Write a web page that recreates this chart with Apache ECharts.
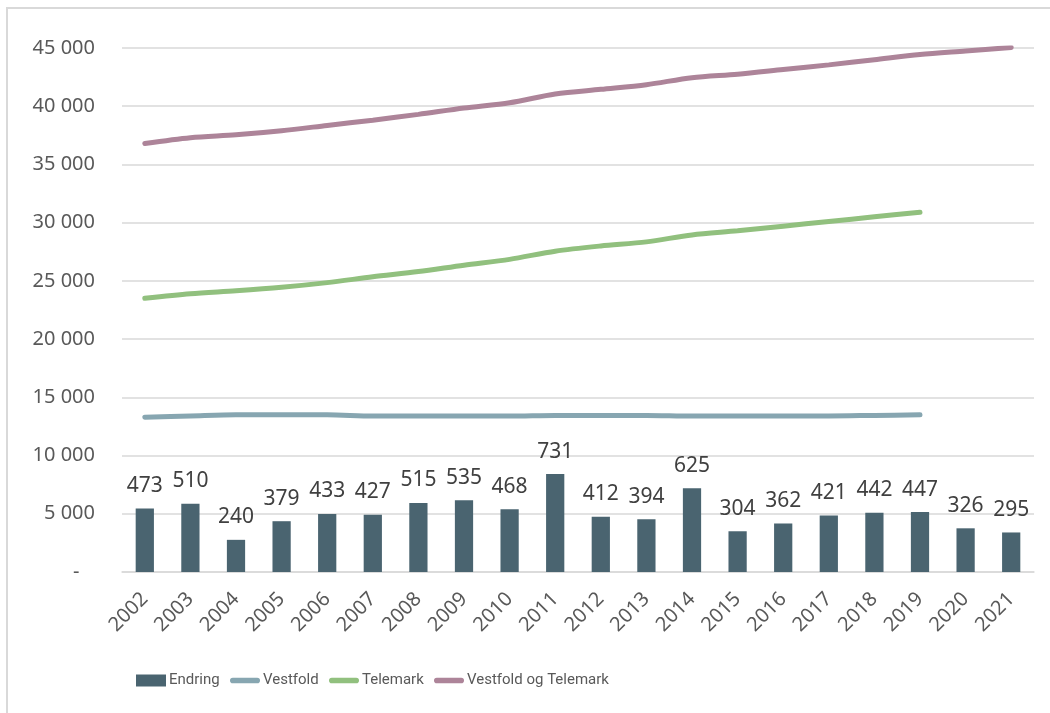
<!DOCTYPE html>
<html>
<head>
<meta charset="utf-8">
<script src="https://cdn.jsdelivr.net/npm/echarts@6/dist/echarts.min.js"></script>
<style>
  html, body { margin: 0; padding: 0; background: #fff; }
  #main { width: 1050px; height: 713px; }
</style>
</head>
<body>
<div id="main"></div>
<script>
var years = ['2002','2003','2004','2005','2006','2007','2008','2009','2010','2011',
             '2012','2013','2014','2015','2016','2017','2018','2019','2020','2021'];
var endring = [473, 510, 240, 379, 433, 427, 515, 535, 468, 731,
               412, 394, 625, 304, 362, 421, 442, 447, 326, 295];
var vestfold = [13300, 13400, 13500, 13500, 13500, 13400, 13400, 13400, 13400, 13450,
                13450, 13450, 13400, 13400, 13400, 13400, 13450, 13500];
var telemark = [23500, 23900, 24150, 24450, 24850, 25350, 25800, 26350, 26850, 27550,
                28000, 28350, 28950, 29300, 29700, 30100, 30500, 30900];
var vogt = [36800, 37300, 37550, 37900, 38350, 38800, 39300, 39850, 40300, 41050,
            41450, 41850, 42450, 42750, 43150, 43550, 44000, 44450, 44750, 45050];
var yTicks = [0, 5000, 10000, 15000, 20000, 25000, 30000, 35000, 40000, 45000];
var seriesNames = ['Endring', 'Vestfold', 'Telemark', 'Vestfold og Telemark'];

var colors = {
  bar: '#4a6470',
  vestfold: '#87a6b1',
  telemark: '#91c07e',
  vogt: '#ad8499'
};
var lineIcon = 'path://M3,0 L29,0 A3,3 0 0 1 29,6 L3,6 A3,3 0 0 1 3,0 Z';

function fmt(v) {
  if (v === 0) return '-   ';
  var s = String(v);
  return s.slice(0, s.length - 3) + ' ' + s.slice(-3);
}

// one legend per item so the icons sit where the original puts them
var legendLefts = [131, 225, 324, 429];
var legends = seriesNames.map(function (name, i) {
  return {
    left: legendLefts[i],
    top: 668,
    itemWidth: 30,
    itemHeight: 12,
    itemGap: 0,
    textStyle: { fontFamily: 'Roboto', fontSize: 15, color: '#595959', padding: [0, 0, 0, -2] },
    data: [{ name: name, icon: i === 0 ? 'rect' : lineIcon }]
  };
});

var chart = echarts.init(document.getElementById('main'));
chart.setOption({
  animation: false,
  textStyle: { fontFamily: 'Noto Sans' },
  graphic: [{
    type: 'rect',
    shape: { x: 7, y: 8, width: 1200, height: 900 },
    style: { fill: 'none', stroke: '#d9d9d9', lineWidth: 2 },
    silent: true
  }],
  grid: { left: 122, right: 16, top: 48, bottom: 141 },
  legend: legends,
  xAxis: {
    type: 'category',
    data: years,
    axisLine: { lineStyle: { color: '#d9d9d9', width: 1.5 } },
    axisTick: { show: false },
    axisLabel: { rotate: 45, fontSize: 20, color: '#595959', margin: 24 }
  },
  yAxis: [{
    type: 'value',
    min: 0,
    max: 45000,
    interval: 5000,
    axisLine: { show: false },
    axisTick: { show: false },
    splitLine: { lineStyle: { color: '#d9d9d9', width: 1.5 } },
    axisLabel: {
      fontSize: 20,
      color: '#595959',
      margin: 27,
      formatter: function (v) { return yTicks.indexOf(v) >= 0 ? fmt(v) : ''; }
    }
  }, {
    type: 'value',
    min: 0,
    max: 3910,
    show: false
  }],
  series: [{
    name: 'Endring',
    type: 'bar',
    yAxisIndex: 1,
    data: endring,
    barWidth: '40%',
    itemStyle: { color: colors.bar },
    label: {
      show: true,
      position: 'top',
      distance: 12,
      fontSize: 21,
      color: '#404040'
    },
    z: 1
  }, {
    name: 'Vestfold',
    type: 'line',
    data: vestfold,
    smooth: 0.3,
    symbol: 'none',
    lineStyle: { color: colors.vestfold, width: 5, cap: 'round' },
    itemStyle: { color: colors.vestfold },
    z: 3
  }, {
    name: 'Telemark',
    type: 'line',
    data: telemark,
    smooth: 0.3,
    symbol: 'none',
    lineStyle: { color: colors.telemark, width: 5, cap: 'round' },
    itemStyle: { color: colors.telemark },
    z: 3
  }, {
    name: 'Vestfold og Telemark',
    type: 'line',
    data: vogt,
    smooth: 0.3,
    symbol: 'none',
    lineStyle: { color: colors.vogt, width: 5, cap: 'round' },
    itemStyle: { color: colors.vogt },
    z: 3
  }]
});
</script>
</body>
</html>
